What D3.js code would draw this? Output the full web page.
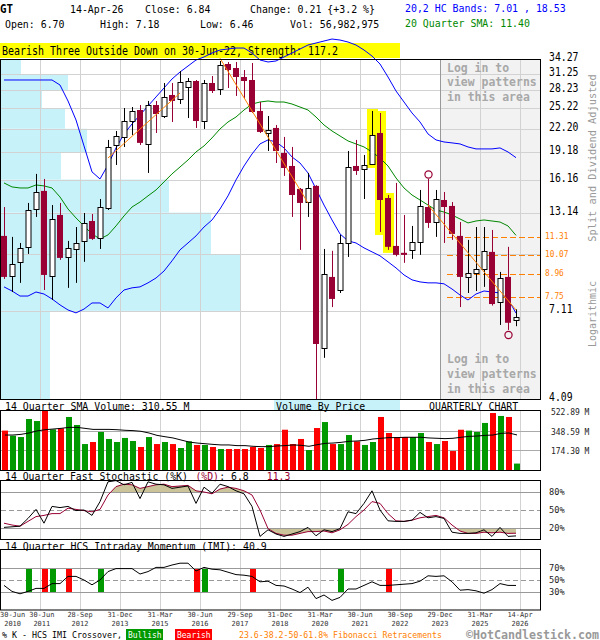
<!DOCTYPE html>
<html><head><meta charset="utf-8">
<script src="https://cdn.jsdelivr.net/npm/d3@7/dist/d3.min.js"></script>
<style>body{margin:0;background:#fff}text{white-space:pre}</style>
</head><body><svg id="c" width="600" height="640"></svg>
<script>
// ---------------- DATA ----------------
const quarterCount = 65; // Q2-2010 .. Q2-2026
const quarters = d3.range(quarterCount).map(i => { const q = (i + 1) % 4 + 1, y = 2010 + Math.floor((i + 1) / 4); return y + "Q" + q; });

const open = [11.36,8.84,9.66,10.61,13.44,15.05,8.84,12.95,9.96,10.47,
 11.01,12.47,11.21,13.53,20.06,21.09,23.30,24.96,20.19,25.75,
 24.04,27.42,26.74,28.82,29.92,23.30,29.55,28.46,33.28,32.45,
 30.68,30.11,24.81,21.62,22.31,19.08,17.59,15.24,14.04,15.53,
 5.64,8.79,8.10,10.87,17.59,17.26,17.81,21.62,14.40,10.67,
 10.22,10.41,10.94,13.61,12.39,14.22,13.70,11.36,8.79,9.01,
 9.24,10.28,7.52,8.79,6.70];
const high = [13.61,11.29,10.87,13.96,16.74,16.22,13.78,13.96,11.01,12.01,
 13.11,13.03,14.31,20.70,21.89,25.27,25.43,25.75,26.41,26.41,
 29.55,29.55,31.85,30.49,30.11,30.11,30.87,33.91,33.70,33.70,
 32.05,33.48,26.24,24.04,22.73,21.09,19.81,15.33,16.84,15.60,
 10.47,10.35,11.43,19.32,20.70,18.84,24.81,24.50,14.67,15.82,
 12.95,12.09,15.14,16.22,15.14,14.95,14.04,12.39,11.08,12.01,
 12.01,11.79,9.07,10.61,7.18];
const low = [8.68,8.00,8.47,10.15,12.79,8.10,7.61,9.78,8.21,8.47,
 9.66,11.08,10.47,13.36,17.70,19.81,21.35,20.06,16.84,21.62,
 23.74,23.16,25.91,23.74,22.31,22.17,27.76,27.42,28.64,27.25,
 26.91,24.50,21.62,19.32,17.92,16.53,12.79,10.41,12.79,3.90,
 5.30,7.28,7.95,9.96,16.63,14.31,17.70,11.64,10.41,10.00,
 9.60,9.84,10.09,11.94,11.29,10.87,11.08,7.28,7.95,8.05,
 8.26,7.35,6.51,6.31,6.46];
const close = [8.79,9.54,10.54,13.36,14.95,8.90,12.63,9.90,10.54,10.87,
 12.32,11.15,13.61,19.81,21.22,23.30,24.81,20.32,25.75,24.34,
 27.08,26.41,29.74,29.92,23.30,29.55,28.11,33.07,32.05,30.68,
 29.92,24.65,21.76,22.03,19.32,17.37,14.67,13.96,15.33,5.78,
 8.95,7.66,10.87,17.48,17.05,17.70,21.35,14.22,10.61,10.09,
 10.09,10.94,13.70,12.32,14.31,13.61,11.50,8.79,9.01,9.24,
 10.35,7.42,8.73,6.60,6.84];

const hcUpper = [30.11,30.11,30.11,30.11,30.11,30.11,30.11,29.18,26.41,23.45,
 19.94,16.95,16.22,17.70,19.69,21.49,22.87,24.19,25.59,27.08,
 28.64,30.30,31.65,32.86,34.12,34.77,35.64,36.32,36.55,36.77,
 36.77,35.64,34.12,33.70,33.91,34.77,35.64,36.55,37.47,37.94,
 38.42,38.90,38.66,38.18,37.47,36.32,34.98,33.28,30.68,28.11,
 26.24,24.50,23.16,21.49,20.70,20.44,20.32,20.19,19.81,19.57,
 19.57,19.57,19.69,19.20,18.53];
const hcLower = [8.26,8.05,7.80,7.80,8.00,7.90,7.66,7.38,7.15,7.02,
 7.19,7.47,7.47,7.24,7.71,8.10,8.21,8.26,8.47,8.73,
 9.12,9.72,10.41,10.87,11.36,12.01,12.55,13.44,14.59,16.12,
 17.59,18.96,20.19,20.70,20.44,19.69,18.61,17.92,16.84,15.24,
 13.78,12.55,11.50,11.01,10.87,10.54,10.28,10.03,9.66,9.30,
 8.90,8.63,8.52,8.47,8.47,8.42,8.15,7.85,7.61,7.90,
 8.05,8.00,7.95,7.66,7.01];
const sma20 = [15.82,15.43,15.33,15.33,15.62,15.53,15.33,14.49,13.44,12.71,
 12.09,11.50,11.15,11.43,12.09,12.87,13.61,14.04,14.59,15.14,
 15.92,16.74,17.48,18.26,19.20,19.94,20.96,22.17,23.16,23.89,
 24.96,25.91,26.24,26.41,26.24,26.24,25.91,25.43,24.96,23.89,
 22.73,21.89,21.22,20.57,20.19,19.81,19.20,18.49,17.59,16.32,
 15.33,14.67,14.22,13.78,13.36,13.19,12.95,12.63,12.32,12.47,
 12.55,12.47,12.39,12.09,11.40];

const volumeM = [349,304,292,452,434,526,360,369,470,399,
 230,248,337,275,248,284,257,204,292,230,
 248,230,195,254,222,222,204,186,186,186,
 186,204,195,222,230,357,230,275,177,372,
 425,230,230,310,254,222,248,470,328,292,
 292,292,328,248,230,257,168,357,349,337,
 417,505,479,470,57];
const volSma14 = [310,310,316,328,346,357,363,369,378,378,
 369,360,360,360,357,352,349,343,328,307,
 295,284,266,248,239,233,227,222,222,216,
 216,210,207,207,213,216,222,219,210,224,
 236,239,245,254,257,263,275,281,287,287,
 290,290,290,284,281,278,281,290,298,301,
 307,310,325,328,310.55];

const stochK = [21,22,23,36,51,28,56,54,56,49,
 50,41,64,97,99,92,96,69,97,93,
 92,86,88,90,61,88,78,93,89,82,
 77,56,6,17,10,6,10,14,21,7,
 17,14,19,47,44,61,82,50,32,31,
 31,33,46,37,39,36,13,11,11,12,
 17,6,21,6,6.8];
const stochD = [28,25,23,31,39,41,44,44,53,51,
 49,47,51,75,89,93,92,86,89,92,
 93,89,90,91,82,80,77,85,88,86,
 82,75,50,19,11,8,8,11,14,14,
 15,12,17,26,39,50,64,61,44,32,
 31,33,37,39,41,37,25,15,11,11,
 13,12,13,11,11.3];
const imi = [41,31,27,31,36,36,44,44,56,56,
 50,42,50,64,69,69,69,60,64,71,
 71,75,78,78,65,71,68,67,63,59,
 58,56,47,48,41,40,35,29,38,19,
 25,16,21,35,35,41,47,41,41,42,
 43,44,48,57,56,57,47,33,34,32,
 28,34,44,41,40.9];
const imiBullish = [3,6,12,25,42];
const imiBearish = [5,8,24,31,48];

const priceGrid = [34.27,31.25,28.23,25.22,22.20,19.18,16.16,13.14,10.12,7.11,4.09];
const priceLabels = [34.27,31.25,28.23,25.22,22.20,19.18,16.16,13.14,7.11,4.09];
const vbpVolume = [20,67,41,64,86,60,168,210,240,49]; // per price row, top to bottom
const fibLevels = [11.31,10.07,8.96,7.75];
const fibStart = 55;
const patternIdx = [46,47,48];
const markTop = [53];
const markBottom = [63];
const trendLines = [[13,18.49,22,27.76],[27,34.5,38,13.96],[53,13.78,64,7.15]];
const volTicks = [522.89,348.59,174.30];
const volTickLabels = ["522.89 M","348.59 M","174.30 M"];
const oscTicks = [80,50,20];
const imiTicks = [70,50,30];
const dateTickIdx = [0,4,9,14,19,24,29,34,39,44,49,54,59,64];
const dateTickLabels = [["30-Jun","2010"],["30-Jun","2011"],["28-Sep","2012"],["31-Dec","2013"],["31-Mar","2015"],["30-Jun","2016"],["29-Sep","2017"],["31-Dec","2018"],["31-Mar","2020"],["30-Jun","2021"],["30-Sep","2022"],["29-Dec","2023"],["31-Mar","2025"],["14-Apr","2026"]];

// ---------------- DRAW ----------------
const CRIM = "#990033", BLUE = "#0000ff", GRN = "#008800", ORG = "#ff8000", GRID = "#d2d2d2";
const VGRN = "#009900", VRED = "#ff0000";
const svg = d3.select("#c");
const W = 540;
const x = d3.scaleBand().domain(d3.range(quarterCount)).range([0, 520]);
const cx = i => x(i) + x.bandwidth() / 2;
const y = d3.scaleLog().domain([4.09, 34.27]).range([399.3, 59.3]);
const yv = d3.scaleLinear().domain([0, 522.89]).range([470, 411]);
const ys = d3.scaleLinear().domain([0, 100]).range([540, 480]);
const yi = d3.scaleLinear().domain([0, 100]).range([610, 550]);

function T(g, str, px, py, o) {
  o = Object.assign({size: 11, cw: 5.95, fill: "#000", weight: "normal", anchor: "start", fam: "DejaVu Sans Mono"}, o || {});
  const t = g.append("text").attr("x", px).attr("y", py).attr("font-family", o.fam)
    .attr("font-size", o.size).attr("font-weight", o.weight).attr("fill", o.fill)
    .attr("text-anchor", o.anchor).attr("dominant-baseline", "central");
  if (Array.isArray(str)) {
    str.forEach(s => t.append("tspan").attr("fill", s[1] || o.fill).text(s[0]));
    str = str.map(s => s[0]).join("");
  } else t.text(str);
  if (o.cw) t.attr("textLength", str.length * o.cw).attr("lengthAdjust", "spacingAndGlyphs");
  if (o.rot) t.attr("transform", `rotate(${o.rot},${px},${py})`);
  return t;
}

svg.append("rect").attr("width", 600).attr("height", 640).attr("fill", "#fff");

// Header
const hd = svg.append("g");
T(hd, "GT", 0, 9, {weight: "bold", size: 12, cw: 6.5});
T(hd, "14-Apr-26", 70, 9);
T(hd, "Close: " + close[64].toFixed(2), 145, 9);
T(hd, "Change: 0.21 {+3.2 %}", 250, 9);
T(hd, "20,2 HC Bands: " + hcLower[64].toFixed(2) + " , " + hcUpper[64].toFixed(2), 405, 8, {fill: BLUE});
T(hd, "Open: " + open[64].toFixed(2), 5, 24);
T(hd, "High: " + high[64].toFixed(2), 100, 24);
T(hd, "Low: " + low[64].toFixed(2), 200, 24);
T(hd, "Vol: 56,982,975", 290, 24);
T(hd, "20 Quarter SMA: " + sma20[64].toFixed(2), 405, 23, {fill: GRN});

// ---- Main panel ----
const mp = svg.append("g");
mp.append("rect").attr("x", 0).attr("y", 43).attr("width", 400).attr("height", 15).attr("fill", "#ffff00");
T(mp, "Bearish Three Outside Down on 30-Jun-22, Strength: 117.2", 2, 51, {size: 11.5, cw: 6.0});
const vbpX = d3.scaleLinear().domain([0, 240]).range([0, 240]);
mp.selectAll(".vbp").data(vbpVolume).join("rect")
  .attr("x", 1).attr("y", (d, k) => y(priceGrid[k]))
  .attr("height", (d, k) => y(priceGrid[k + 1]) - y(priceGrid[k]))
  .attr("width", d => vbpX(d))
  .attr("fill", "#c8f2fa");
mp.append("rect").attr("x", 440).attr("y", 60).attr("width", 100).attr("height", 340).attr("fill", "#f2f2f2");
mp.selectAll(".hg").data(priceGrid).join("line").attr("x1", 1).attr("x2", W)
  .attr("y1", d => Math.round(y(d)) + 0.5).attr("y2", d => Math.round(y(d)) + 0.5).attr("stroke", GRID);
const vgrid = dateTickIdx.filter(i => i > 0).map(i => x(i) + x.bandwidth());
mp.selectAll(".vg").data(vgrid).join("line").attr("x1", d => d + 0.5).attr("x2", d => d + 0.5)
  .attr("y1", 60).attr("y2", 400).attr("stroke", d => d === 440 ? "#999" : GRID);
priceLabels.forEach(v => T(mp, v.toFixed(2), 549, y(v) - 2, {size: 11.5, cw: 5.9}));
mp.selectAll(".pat").data(patternIdx).join("rect")
  .attr("x", i => cx(i) - 5).attr("width", 11)
  .attr("y", i => y(high[i]) - 2).attr("height", i => y(low[i]) - y(high[i]) + 5)
  .attr("fill", "#ffff00");
fibLevels.forEach(v => {
  mp.append("line").attr("x1", cx(fibStart) + 3).attr("x2", W).attr("y1", Math.round(y(v)) + 0.5).attr("y2", Math.round(y(v)) + 0.5)
    .attr("stroke", ORG).attr("stroke-dasharray", "6,3");
  T(mp, v.toFixed(2), 545, y(v) - 1, {size: 9, cw: 4.7, fill: ORG});
});
const ln = arr => d3.line().x((d, i) => cx(i)).y(d => y(d))(arr);
mp.append("path").attr("d", ln(hcUpper)).attr("fill", "none").attr("stroke", BLUE);
mp.append("path").attr("d", ln(hcLower)).attr("fill", "none").attr("stroke", BLUE);
mp.append("path").attr("d", ln(sma20)).attr("fill", "none").attr("stroke", GRN);
svg.append("clipPath").attr("id", "mclip").append("rect").attr("x", 0).attr("y", 0).attr("width", W).attr("height", 400);
const cg = mp.append("g").attr("clip-path", "url(#mclip)");
d3.range(quarterCount).forEach(i => {
  const up = close[i] >= open[i];
  const col = up ? "#000" : CRIM;
  const c = Math.round(cx(i)) + 0.5;
  cg.append("line").attr("x1", c).attr("x2", c).attr("y1", y(high[i])).attr("y2", y(low[i])).attr("stroke", col);
  const top = y(Math.max(open[i], close[i])), bot = y(Math.min(open[i], close[i]));
  if (up) {
    cg.append("rect").attr("x", c - 2.5).attr("width", 5).attr("y", Math.round(top) + 0.5).attr("height", Math.max(1, Math.round(bot - top)))
      .attr("fill", "#fff").attr("stroke", "#000");
  } else {
    cg.append("rect").attr("x", c - 3.5).attr("width", 6).attr("y", top).attr("height", Math.max(1, bot - top)).attr("fill", CRIM);
  }
});
trendLines.forEach(t => mp.append("line").attr("x1", cx(t[0])).attr("y1", y(t[1])).attr("x2", cx(t[2])).attr("y2", y(t[3]))
  .attr("stroke", ORG).attr("stroke-width", 1));
markTop.forEach(i => mp.append("circle").attr("cx", cx(i) + 0.5).attr("cy", y(high[i]) - 4.5).attr("r", 3.6).attr("fill", "none").attr("stroke", CRIM).attr("stroke-width", 1.2));
markBottom.forEach(i => mp.append("circle").attr("cx", cx(i) + 0.5).attr("cy", y(low[i]) + 5).attr("r", 3.6).attr("fill", "none").attr("stroke", CRIM).attr("stroke-width", 1.2));
[["Log in to", 68], ["view patterns", 82], ["in this area", 97], ["Log in to", 359], ["view patterns", 374], ["in this area", 389]]
  .forEach(a => T(mp, a[0], 447, a[1], {size: 11.5, cw: 6.9, weight: "bold", fill: "#a8a8a8"}));
mp.append("rect").attr("x", 0.5).attr("y", 59.5).attr("width", W).attr("height", 340).attr("fill", "none").attr("stroke", "#000");
T(svg, "Split and Dividend Adjusted", 592, 158, {size: 10.5, cw: 6.2, fill: "#999", anchor: "middle", rot: -90});
T(svg, "Logarithmic", 592, 314, {size: 10.5, cw: 6.0, fill: "#999", anchor: "middle", rot: -90});

// ---- Volume panel ----
const vp = svg.append("g");
vp.append("rect").attr("x", 274).attr("y", 400).attr("width", 126).attr("height", 10).attr("fill", "#c8f2fa");
T(vp, "14 Quarter SMA Volume: " + volSma14[64].toFixed(2) + " M", 5, 406);
T(vp, "Volume By Price", 276, 406);
T(vp, "QUARTERLY CHART", 429, 406);
vp.selectAll(".vg").data(vgrid).join("line").attr("x1", d => d + 0.5).attr("x2", d => d + 0.5).attr("y1", 411).attr("y2", 470).attr("stroke", GRID);
vp.selectAll(".hg").data(volTicks.slice(1)).join("line").attr("x1", 1).attr("x2", W).attr("y1", d => Math.round(yv(d)) + 0.5).attr("y2", d => Math.round(yv(d)) + 0.5).attr("stroke", "#aaa");
vp.selectAll(".vb").data(volumeM).join("rect")
  .attr("x", (d, i) => x(i) + 2).attr("width", 6)
  .attr("y", d => Math.max(411, yv(d))).attr("height", d => 470 - Math.max(411, yv(d)))
  .attr("fill", (d, i) => close[i] >= open[i] ? VGRN : VRED);
vp.append("path").attr("d", d3.line().x((d, i) => cx(i) + 1).y(d => yv(d))(volSma14)).attr("fill", "none").attr("stroke", "#000");
volTicks.forEach((v, k) => T(vp, volTickLabels[k], 551, yv(v) + 1, {size: 8.5, cw: 4.8, fill: "#222"}));
vp.append("rect").attr("x", 0.5).attr("y", 410.5).attr("width", W).attr("height", 60).attr("fill", "none").attr("stroke", "#000");

// ---- Stochastic ----
const sp = svg.append("g");
const stT = ["14 Quarter Fast Stochastic (%K) ", "(%D)", ": " + stochK[64].toFixed(1) + "   ", stochD[64].toFixed(1)];
let sx = 5;
stT.forEach((s, k) => { T(sp, s, sx, 476, {size: 9.8, cw: 5.9, fill: k % 2 ? CRIM : "#000"}); sx += s.length * 5.95; });
sp.selectAll(".vg").data(vgrid).join("line").attr("x1", d => d + 0.5).attr("x2", d => d + 0.5).attr("y1", 481).attr("y2", 540).attr("stroke", GRID);
svg.append("clipPath").attr("id", "sTop").append("rect").attr("x", 0).attr("y", 480).attr("width", W).attr("height", ys(80) - 480);
svg.append("clipPath").attr("id", "sBot").append("rect").attr("x", 0).attr("y", ys(20)).attr("width", W).attr("height", 540 - ys(20));
sp.append("path").attr("clip-path", "url(#sTop)").attr("fill", "#cbc39a")
  .attr("d", d3.area().x((d, i) => cx(i)).y0(ys(80)).y1(d => ys(d))(stochD));
sp.append("path").attr("clip-path", "url(#sBot)").attr("fill", "#cbc39a")
  .attr("d", d3.area().x((d, i) => cx(i)).y0(ys(20)).y1(d => ys(d))(stochD));
oscTicks.forEach(v => {
  sp.append("line").attr("x1", 1).attr("x2", W).attr("y1", Math.round(ys(v)) + 0.5).attr("y2", Math.round(ys(v)) + 0.5)
    .attr("stroke", "#999").attr("stroke-dasharray", v === 50 ? "5,3" : null);
  T(sp, v + "%", 549, ys(v), {size: 8.5, cw: 5.2, fill: "#222"});
});
sp.append("path").attr("d", d3.line().x((d, i) => cx(i)).y(d => ys(d))(stochD)).attr("fill", "none").attr("stroke", CRIM);
sp.append("path").attr("d", d3.line().x((d, i) => cx(i)).y(d => ys(d))(stochK)).attr("fill", "none").attr("stroke", "#000");
sp.append("rect").attr("x", 0.5).attr("y", 480.5).attr("width", W).attr("height", 59).attr("fill", "none").attr("stroke", "#000");

// ---- IMI ----
const ip = svg.append("g");
T(ip, "14 Quarter HCS Intraday Momentum (IMI): " + imi[64].toFixed(1), 5, 546);
ip.selectAll(".vg").data(vgrid).join("line").attr("x1", d => d + 0.5).attr("x2", d => d + 0.5).attr("y1", 550).attr("y2", 610).attr("stroke", GRID);
imiTicks.forEach(v => {
  ip.append("line").attr("x1", 1).attr("x2", W).attr("y1", Math.round(yi(v)) + 0.5).attr("y2", Math.round(yi(v)) + 0.5)
    .attr("stroke", "#999").attr("stroke-dasharray", v === 50 ? "5,3" : null);
  T(ip, v + "%", 549, yi(v), {size: 8.5, cw: 5.2, fill: "#222"});
});
ip.selectAll(".bu").data(imiBullish).join("rect").attr("x", i => x(i) + 2).attr("width", 6).attr("y", yi(70) + 1).attr("height", yi(30) - yi(70) - 1).attr("fill", VGRN);
ip.selectAll(".be").data(imiBearish).join("rect").attr("x", i => x(i) + 2).attr("width", 6).attr("y", yi(70) + 1).attr("height", yi(30) - yi(70) - 1).attr("fill", VRED);
ip.append("path").attr("d", d3.line().x((d, i) => cx(i)).y(d => yi(d))(imi)).attr("fill", "none").attr("stroke", "#000");
ip.append("rect").attr("x", 0.5).attr("y", 549.5).attr("width", W).attr("height", 60.5).attr("fill", "none").attr("stroke", "#000");

// ---- date axis ----
let prevRight = -10;
dateTickIdx.forEach((i, k) => {
  const w = 6 * 4.2;
  let px = x(i) + x.bandwidth();
  if (i === 0) px = w / 2;
  px = Math.max(px, prevRight + 4 + w / 2);
  prevRight = px + w / 2;
  T(svg, dateTickLabels[k][0], px, 615, {size: 7, cw: 4.2, anchor: "middle", fill: "#333"});
  T(svg, dateTickLabels[k][1], px, 623.5, {size: 7, cw: 4.2, anchor: "middle", fill: "#333"});
});

// ---- legend ----
T(svg, "% K - HCS IMI Crossover,", 2, 635, {size: 8.5, cw: 5.0});
svg.append("rect").attr("x", 126).attr("y", 629).attr("width", 37).attr("height", 11).attr("fill", VGRN);
T(svg, "Bullish", 128, 635, {size: 8, cw: 4.8, fill: "#fff"});
svg.append("rect").attr("x", 175).attr("y", 629).attr("width", 37).attr("height", 11).attr("fill", VRED);
T(svg, "Bearish", 177, 635, {size: 8, cw: 4.8, fill: "#fff"});
T(svg, "23.6-38.2-50-61.8% Fibonacci Retracements", 239, 635, {size: 8.2, cw: 4.95, fill: ORG});
T(svg, "\u00a9HotCandlestick.com", 466, 634.5, {size: 11.5, cw: 7.0, weight: "bold", fill: "#999"});
</script></body></html>
